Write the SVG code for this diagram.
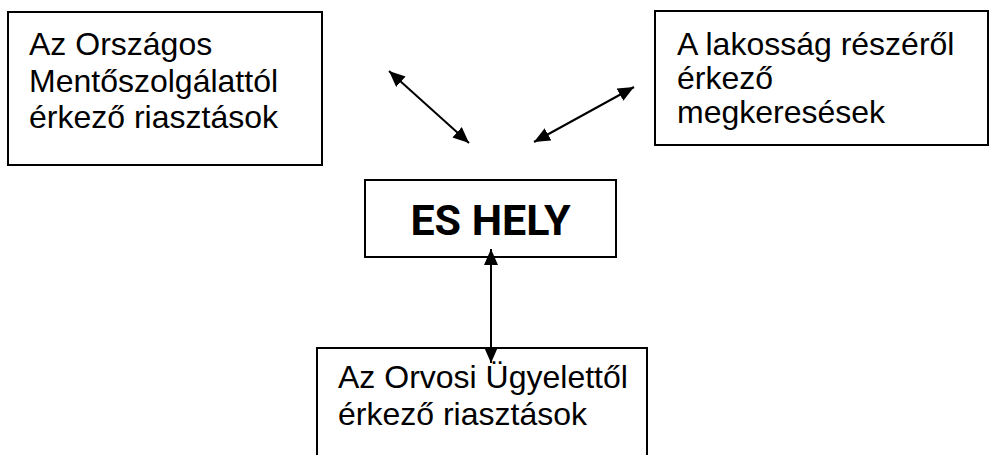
<svg xmlns="http://www.w3.org/2000/svg" width="990" height="455" viewBox="0 0 990 455">
<style>
.box{fill:#fff;stroke:#000;stroke-width:2}
.t{font-family:"Liberation Sans",Arial,sans-serif;font-size:32px;fill:#000}
.h{font-family:Roboto,"Liberation Sans",sans-serif;font-size:43px;font-weight:700;fill:#000}
.c{stroke:#000;stroke-width:2;fill:none;marker-start:url(#a);marker-end:url(#a)}
</style>
<defs>
<marker id="a" viewBox="0 0 16 14" refX="16" refY="7" markerWidth="16" markerHeight="14" markerUnits="userSpaceOnUse" orient="auto-start-reverse">
<path d="M0,0 L16,7 L0,14 z" fill="#000"/>
</marker>
</defs>
<rect width="990" height="455" fill="#fff"/>
<g id="n1">
<rect class="box" x="8" y="12" width="314" height="153"/>
<text class="t" x="29" y="55">Az Országos</text>
<text class="t" x="29" y="92">Mentőszolgálattól</text>
<text class="t" x="29" y="128">érkező riasztások</text>
</g>
<g id="n2">
<rect class="box" x="655" y="11" width="333" height="134"/>
<text class="t" x="677" y="55">A lakosság részéről</text>
<text class="t" x="677" y="89">érkező</text>
<text class="t" x="677" y="123">megkeresések</text>
</g>
<g id="n3">
<rect class="box" x="365" y="180" width="251" height="77"/>
<text class="h" x="490.500" y="235" text-anchor="middle">ES HELY</text>
</g>
<g id="n4">
<rect class="box" x="317" y="348" width="330" height="120"/>
<text class="t" x="338" y="388">Az Orvosi Ügyelettől</text>
<text class="t" x="338" y="425">érkező riasztások</text>
</g>
<g id="connectors">
<line class="c" x1="389" y1="71" x2="469" y2="143"/>
<line class="c" x1="634" y1="87" x2="534" y2="142"/>
<line class="c" x1="491" y1="249" x2="491" y2="363"/>
</g>
</svg>
